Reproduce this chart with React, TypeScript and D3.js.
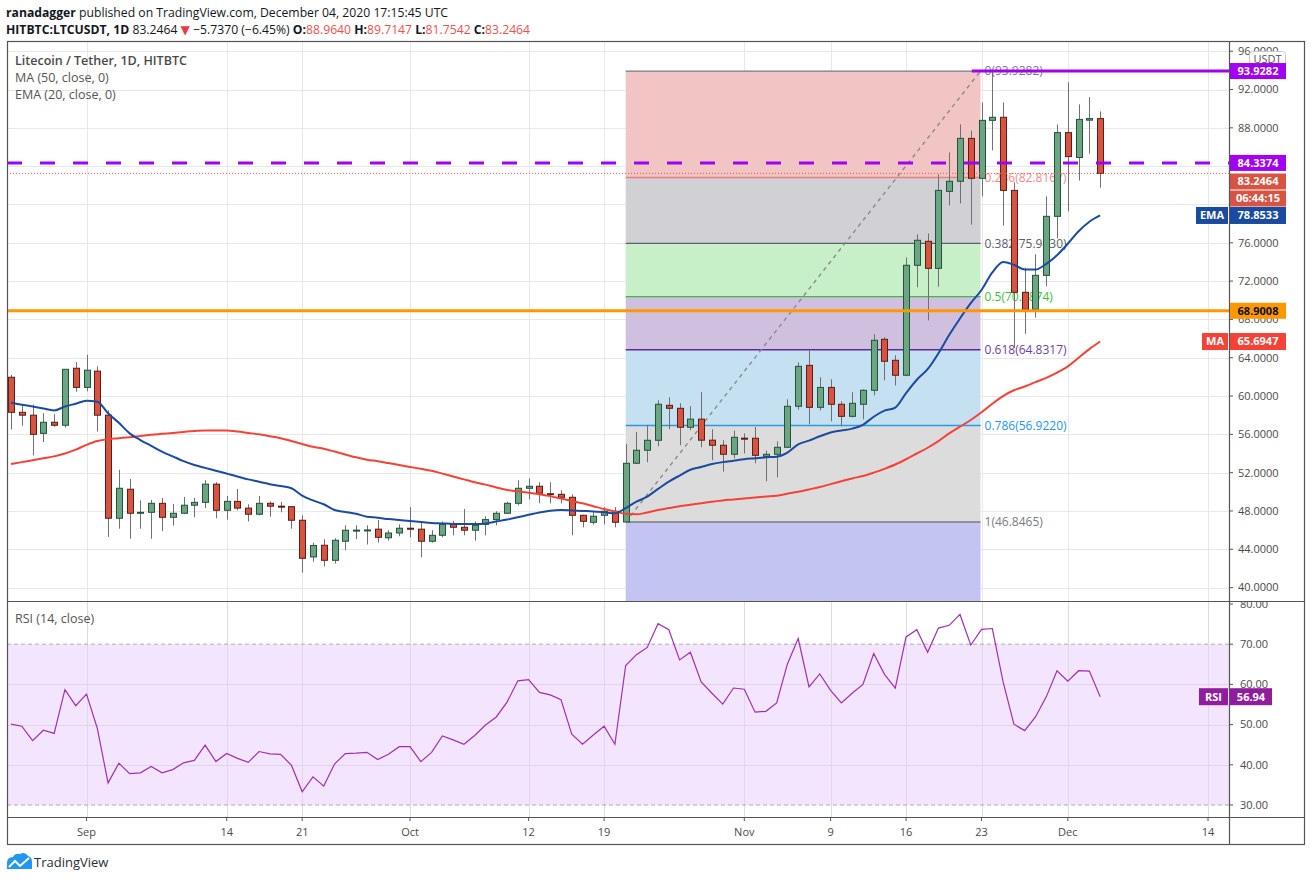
import React, { useRef, useEffect } from "react";
import * as d3 from "d3";

const W = 1311;
const H = 881;
const FONT = "'Open Sans', 'DejaVu Sans', sans-serif";

// daily candles from Aug 25 2020 to Dec 4 2020: [open, high, low, close]
const ohlc: [number, number, number, number][] = [
  [61.96, 62.2, 56.5, 58.3], [58.3, 59.06, 56.9, 58.0], [58.0, 59.1, 53.8, 56.0], [56.1, 58.2, 55.2, 57.26],
  [57.26, 58.1, 56.8, 56.95], [56.95, 62.8, 56.7, 62.79], [62.9, 63.55, 60.45, 60.9],
  [60.9, 64.3, 60.5, 62.7], [62.6, 63.1, 56.3, 58.0], [58.0, 58.5, 45.3, 47.24], [47.24, 52.3, 46.15, 50.37],
  [50.27, 51.34, 45.1, 47.76], [47.76, 49.1, 46.15, 47.86], [47.86, 49.15, 45.1, 48.8], [48.8, 49.36, 45.9, 47.34],
  [47.34, 48.73, 46.47, 47.76], [47.76, 49.46, 47.7, 48.6], [48.6, 49.36, 47.34, 48.9], [48.9, 51.2, 48.3, 50.8],
  [50.8, 51.0, 47.24, 48.07], [48.07, 49.56, 47.1, 49.0], [49.0, 50.3, 48.07, 48.3], [48.3, 48.7, 46.9, 47.66],
  [47.66, 49.56, 47.55, 48.8], [48.8, 49.0, 47.4, 48.5], [48.5, 48.94, 47.86, 48.45], [48.45, 48.5, 46.15, 47.03],
  [47.03, 47.55, 41.56, 43.06], [43.2, 44.7, 42.7, 44.4], [44.42, 45.05, 42.2, 42.85], [42.85, 45.15, 42.5, 44.94],
  [44.84, 46.5, 43.9, 45.99], [45.95, 46.5, 45.05, 46.0], [45.98, 46.5, 44.5, 46.02], [46.1, 47.06, 44.7, 45.25],
  [45.2, 46.0, 44.9, 45.7], [45.7, 46.6, 45.36, 46.2], [46.2, 48.4, 45.25, 46.1], [46.1, 46.9, 43.16, 44.84],
  [44.84, 46.0, 44.7, 45.46], [45.46, 46.9, 45.25, 46.6], [46.6, 46.97, 45.46, 46.3], [46.3, 48.2, 45.46, 45.99],
  [45.99, 46.9, 44.9, 46.5], [46.6, 47.45, 45.46, 47.1], [47.1, 47.97, 46.5, 47.76], [47.76, 48.95, 47.7, 48.8],
  [48.8, 51.2, 48.6, 50.37], [50.37, 51.4, 49.2, 50.58], [50.58, 51.0, 48.8, 49.85], [49.8, 51.0, 48.8, 49.75],
  [49.74, 50.16, 48.8, 49.43], [49.43, 49.74, 45.46, 47.55], [47.55, 47.6, 46.3, 46.92], [46.82, 47.86, 46.6, 47.45],
  [47.55, 48.4, 46.6, 47.97], [47.97, 48.4, 46.3, 46.82], [46.85, 55.0, 46.85, 52.98], [52.98, 56.25, 52.9, 54.34],
  [54.34, 56.98, 53.08, 55.38], [55.38, 59.56, 54.75, 59.14], [59.03, 59.87, 56.53, 58.72], [58.72, 59.24, 54.86, 56.74],
  [56.74, 58.93, 56.42, 57.59], [57.59, 60.4, 54.65, 55.39], [55.39, 56.53, 53.3, 54.86], [54.86, 55.39, 52.1, 53.92],
  [53.92, 56.4, 53.5, 55.69], [55.6, 56.1, 54.0, 55.5], [55.59, 56.77, 52.98, 53.81], [53.7, 54.3, 51.1, 53.92],
  [53.92, 55.27, 51.5, 54.65], [54.65, 59.66, 54.6, 58.93], [58.93, 63.52, 58.57, 63.1], [63.2, 64.77, 57.05, 58.82],
  [58.82, 61.96, 58.5, 60.9], [60.9, 61.75, 57.36, 59.14], [59.14, 59.45, 56.84, 57.88], [57.88, 60.4, 57.78, 59.24],
  [59.14, 60.7, 57.57, 60.6], [60.6, 66.45, 60.07, 65.82], [65.92, 66.13, 61.64, 63.63], [63.73, 64.25, 61.1, 62.17],
  [62.17, 74.48, 62.06, 73.65], [73.65, 76.88, 71.35, 76.26], [76.15, 76.98, 67.9, 73.33], [73.33, 83.15, 71.4, 81.47],
  [81.37, 85.44, 79.9, 82.42], [82.42, 88.36, 80.1, 86.9], [86.9, 87.7, 77.9, 82.73], [82.73, 90.66, 80.85, 88.78],
  [88.78, 93.93, 85.65, 89.1], [89.1, 90.66, 77.8, 81.47], [81.47, 82.3, 65.0, 70.83], [70.83, 73.4, 66.5, 69.05],
  [69.05, 74.8, 68.2, 72.6], [72.6, 80.85, 71.46, 78.76], [78.76, 88.36, 76.47, 87.5], [87.5, 92.75, 79.28, 85.0],
  [84.9, 90.45, 82.5, 88.88], [88.8, 91.2, 85.3, 88.964], [88.964, 89.7147, 81.7542, 83.2464],
];

const ema20 = [
  59.3, 59.1, 58.9, 58.7, 58.5, 58.9, 59.2, 59.5, 59.4, 58.2, 57.2, 56.1, 55.4, 54.8, 54.2, 53.7, 53.2, 52.8, 52.5,
  52.2, 51.9, 51.6, 51.3, 51.06, 50.8, 50.6, 50.37, 49.6, 49.1, 48.7, 48.1, 47.9, 47.7, 47.4, 47.3, 47.15, 47.05,
  46.96, 46.85, 46.75, 46.7, 46.65, 46.64, 46.64, 46.7, 46.9, 47.1, 47.35, 47.6, 47.85, 48.03, 48.1, 48.05, 48.0,
  47.95, 47.86, 47.76, 48.3, 48.97, 49.5, 50.3, 51.06, 51.7, 52.3, 52.6, 52.9, 53.1, 53.25, 53.4, 53.5, 53.6, 53.67,
  54.1, 54.96, 55.34, 55.8, 56.2, 56.4, 56.6, 57.0, 57.84, 58.47, 58.8, 60.3, 61.7, 62.8, 64.46, 66.37, 68.1, 69.7,
  71.07, 72.9, 74.0, 73.7, 73.2, 73.2, 73.8, 74.7, 75.9, 77.2, 78.2, 78.85,
];

const ma50 = [
  52.9, 53.1, 53.3, 53.5, 53.7, 54.0, 54.4, 54.9, 55.3, 55.5, 55.6, 55.7, 55.83, 55.95, 56.05, 56.15, 56.25, 56.35,
  56.4, 56.4, 56.4, 56.3, 56.15, 56.0, 55.8, 55.6, 55.3, 55.0, 54.7, 54.5, 54.2, 53.9, 53.6, 53.35, 53.2, 53.0, 52.8,
  52.6, 52.4, 52.2, 51.9, 51.6, 51.3, 51.0, 50.75, 50.45, 50.2, 50.05, 49.9, 49.75, 49.55, 49.3, 49.05, 48.8, 48.5,
  48.2, 47.95, 47.7, 47.65, 47.85, 48.1, 48.3, 48.5, 48.65, 48.8, 48.97, 49.1, 49.2, 49.3, 49.4, 49.5, 49.6, 49.8,
  50.0, 50.25, 50.5, 50.8, 51.1, 51.4, 51.65, 52.0, 52.4, 52.85, 53.4, 54.0, 54.6, 55.3, 56.1, 56.8, 57.5, 58.3, 59.2,
  60.0, 60.6, 61.0, 61.45, 61.9, 62.45, 63.1, 64.0, 64.9, 65.69,
];

const rsi14 = [
  50.1, 49.6, 46.0, 48.6, 47.8, 58.7, 54.7,
  57.6, 49.1, 35.5, 40.4, 37.8, 38.0, 39.6, 38.0, 38.8, 40.5, 41.1, 44.9, 40.8, 42.8, 41.6, 40.6, 43.3, 42.7, 42.6,
  39.9, 33.3, 37.0, 34.7, 40.2, 42.8, 42.9, 43.1, 41.3, 42.6, 44.5,
  44.5, 40.8, 43.1, 47.2, 46.2, 45.1, 47.3, 49.9, 51.9, 55.6, 60.9, 61.2, 58.0, 57.4, 56.2, 47.6, 45.1, 47.4, 49.6,
  45.1, 64.7, 67.4, 69.2, 75.1, 73.6, 66.1, 68.0, 60.6, 57.8, 55.1, 59.1,
  58.8, 53.1, 53.3, 55.4, 65.1, 71.4, 59.4, 62.6, 58.5, 55.4, 57.8, 60.0, 67.7, 62.5, 59.1, 71.8, 73.6, 68.0, 74.0,
  74.7, 77.4, 69.8, 73.7, 73.9, 60.6, 50.1, 48.5, 51.9, 56.9, 63.4,
  60.8, 63.4, 63.3, 56.94,
];

// price ticks whose labels are visible (84 and 80 sit under the value tags)
const priceTicks = [40, 44, 48, 52, 56, 60, 64, 68, 72, 76, 80, 84, 88, 92, 96];
const hiddenPriceLabels = [80, 84];
const rsiTicks = [30, 40, 50, 60, 70, 80];
const timeTicks: [Date, string][] = [
  [new Date(Date.UTC(2020, 8, 1)), "Sep"], [new Date(Date.UTC(2020, 8, 14)), "14"],
  [new Date(Date.UTC(2020, 8, 21)), "21"], [new Date(Date.UTC(2020, 9, 1)), "Oct"],
  [new Date(Date.UTC(2020, 9, 12)), "12"], [new Date(Date.UTC(2020, 9, 19)), "19"],
  [new Date(Date.UTC(2020, 10, 1)), "Nov"], [new Date(Date.UTC(2020, 10, 9)), "9"],
  [new Date(Date.UTC(2020, 10, 16)), "16"], [new Date(Date.UTC(2020, 10, 23)), "23"],
  [new Date(Date.UTC(2020, 11, 1)), "Dec"], [new Date(Date.UTC(2020, 11, 14)), "14"],
];

// fib retracement: levels, prices, colours
const fibLevels = ["0", "0.236", "0.382", "0.5", "0.618", "0.786", "1"];
const fibPrices = [93.9282, 82.8167, 75.943, 70.3874, 64.8317, 56.922, 46.8465];
const fibLine = ["#787b86", "#e88080", "#5d606b", "#4caf50", "#5e2a96", "#2a9be0", "#787b86"];
const fibText = ["#787b86", "#ef8c8c", "#5d606b", "#3cbf3c", "#6a3fa8", "#2196f3", "#787b86"];
const fibFill = ["#f2c5c5", "#d1d0d5", "#c7efc8", "#cfc0df", "#c5e1f1", "#dcdcdc", "#c3c4f1"];
const fibStart = new Date(Date.UTC(2020, 9, 21));
const fibEnd = new Date(Date.UTC(2020, 10, 23));

const resistance = 84.3374;
const support = 68.9008;
const topLevel = 93.9282;
const lastPrice = 83.2464;

const App: React.FC = () => {
  const svgRef = useRef<SVGSVGElement | null>(null);

  useEffect(() => {
    if (!svgRef.current) return;
    const svg = d3.select(svgRef.current);
    svg.selectAll("*").remove();

    const left = 7, right = 1229, top = 41, mainBottom = 601, rsiBottom = 817, bottom = 844, outer = 1304;

    const dates = d3.utcDay.range(new Date(Date.UTC(2020, 7, 25)), new Date(Date.UTC(2020, 11, 5)));
    const x = d3.scaleUtc()
      .domain([new Date(Date.UTC(2020, 8, 1)), new Date(Date.UTC(2020, 11, 14))])
      .range([86.5, 1208]);
    const y = d3.scaleLinear().domain([40, 96]).range([587.6, 51.2]);
    const yr = d3.scaleLinear().domain([30, 80]).range([805, 604]);

    const defs = svg.append("defs");
    defs.append("clipPath").attr("id", "clipMain")
      .append("rect").attr("x", left).attr("y", top).attr("width", right - left).attr("height", mainBottom - top);
    defs.append("clipPath").attr("id", "clipRsi")
      .append("rect").attr("x", left).attr("y", mainBottom).attr("width", right - left).attr("height", rsiBottom - mainBottom);
    defs.append("clipPath").attr("id", "clipRsiAxis")
      .append("rect").attr("x", right).attr("y", mainBottom + 1).attr("width", outer - right).attr("height", rsiBottom - mainBottom - 1);

    svg.append("rect").attr("width", W).attr("height", H).attr("fill", "#fff");

    // ---------- header ----------
    const h1 = svg.append("text").attr("x", 6).attr("y", 17).style("font", `12.2px ${FONT}`).attr("fill", "#131722");
    h1.append("tspan").attr("font-weight", "bold").text("ranadagger");
    h1.append("tspan").text(" published on TradingView.com, December 04, 2020 17:15:45 UTC");

    const h2 = svg.append("text").attr("x", 6).attr("y", 34).style("font", `12.2px ${FONT}`).attr("fill", "#131722");
    h2.append("tspan").attr("font-weight", "bold").text("HITBTC:LTCUSDT, 1D");
    h2.append("tspan").text("  83.2464 ");
    h2.append("tspan").attr("fill", "#f23645").text("▼");
    h2.append("tspan").text(" −5.7370 (−6.45%) ");
    [["O:", "88.9640"], ["H:", "89.7147"], ["L:", "81.7542"], ["C:", "83.2464"]].forEach(([k, v]) => {
      h2.append("tspan").attr("font-weight", "bold").text(k);
      h2.append("tspan").attr("fill", "#f0504f").text(v + " ");
    });

    // ---------- grid ----------
    const grid = svg.append("g").attr("stroke", "#e8e8e8").attr("stroke-width", 1);
    timeTicks.forEach(([d]) => {
      grid.append("line").attr("x1", Math.round(x(d)) + 0.5).attr("x2", Math.round(x(d)) + 0.5)
        .attr("y1", top).attr("y2", rsiBottom);
    });
    priceTicks.forEach(p => {
      if (y(p) > top && y(p) < mainBottom)
        grid.append("line").attr("x1", left).attr("x2", right).attr("y1", Math.round(y(p)) + 0.5).attr("y2", Math.round(y(p)) + 0.5);
    });

    // ---------- main pane ----------
    const main = svg.append("g").attr("clip-path", "url(#clipMain)");
    const fx0 = x(fibStart), fx1 = x(fibEnd) - 1;
    const fillBounds = [...fibPrices, 17.8];
    fibFill.forEach((c, i) => {
      const ya = y(fillBounds[i]), yb = y(fillBounds[i + 1]);
      main.append("rect").attr("x", fx0).attr("y", ya).attr("width", fx1 - fx0).attr("height", yb - ya)
        .attr("fill", c);
    });
    fibPrices.forEach((p, i) => {
      main.append("line").attr("x1", fx0).attr("x2", fx1).attr("y1", y(p)).attr("y2", y(p))
        .attr("stroke", fibLine[i]).attr("stroke-width", 1.3);
      main.append("text").attr("x", fx1 + 4).attr("y", y(p)).attr("dy", "0.35em")
        .style("font", `12px ${FONT}`).attr("fill", fibText[i])
        .text(`${fibLevels[i]}(${p.toFixed(4)})`);
    });
    main.append("line")
      .attr("x1", fx0).attr("y1", y(fibPrices[6])).attr("x2", fx1).attr("y2", y(fibPrices[0]))
      .attr("stroke", "#8a8a8a").attr("stroke-width", 1.4).attr("stroke-dasharray", "4 4");

    // candles
    const bw = 6;
    const candles = main.append("g").selectAll("g").data(ohlc).enter().append("g");
    candles.append("line")
      .attr("x1", (_, i) => Math.round(x(dates[i])) + 0.5).attr("x2", (_, i) => Math.round(x(dates[i])) + 0.5)
      .attr("y1", d => y(d[1])).attr("y2", d => y(d[2]))
      .attr("stroke", "#707070").attr("stroke-width", 1);
    candles.append("rect")
      .attr("x", (_, i) => Math.round(x(dates[i])) + 0.5 - bw / 2)
      .attr("y", d => y(Math.max(d[0], d[3])))
      .attr("width", bw)
      .attr("height", d => Math.max(1, Math.abs(y(d[0]) - y(d[3]))))
      .attr("fill", d => d[3] >= d[0] ? "#6ba583" : "#d75442")
      .attr("stroke", d => d[3] >= d[0] ? "#225437" : "#5e1d12")
      .attr("stroke-width", 1);

    const lineGen = (vals: number[]) => d3.line<number>()
      .x((_, i) => x(dates[i])).y(v => y(v)).curve(d3.curveMonotoneX)(vals);
    main.append("path").attr("d", lineGen(ma50)).attr("fill", "none").attr("stroke", "#f44336").attr("stroke-width", 2);
    main.append("path").attr("d", lineGen(ema20)).attr("fill", "none").attr("stroke", "#1a4ba0").attr("stroke-width", 2);

    // horizontal drawings
    main.append("line").attr("x1", left).attr("x2", right).attr("y1", y(lastPrice)).attr("y2", y(lastPrice))
      .attr("stroke", "#ef5350").attr("stroke-width", 1).attr("stroke-dasharray", "1 2");
    main.append("line").attr("x1", left).attr("x2", right).attr("y1", y(support)).attr("y2", y(support))
      .attr("stroke", "#ff9800").attr("stroke-width", 3);
    main.append("line").attr("x1", left).attr("x2", right).attr("y1", y(resistance)).attr("y2", y(resistance))
      .attr("stroke", "#a100f2").attr("stroke-width", 3).attr("stroke-dasharray", "15 18");
    main.append("line").attr("x1", x(new Date(Date.UTC(2020, 10, 22))) + 1).attr("x2", right)
      .attr("y1", y(topLevel)).attr("y2", y(topLevel))
      .attr("stroke", "#a100f2").attr("stroke-width", 3);

    // legend
    const legend = svg.append("g").style("font", `12.5px ${FONT}`);
    legend.append("text").attr("x", 15).attr("y", 65).attr("fill", "#4a4a4a").attr("font-weight", 600)
      .text("Litecoin / Tether, 1D, HITBTC");
    legend.append("text").attr("x", 15).attr("y", 82).attr("fill", "#555").text("MA (50, close, 0)");
    legend.append("text").attr("x", 15).attr("y", 99).attr("fill", "#555").text("EMA (20, close, 0)");

    // ---------- RSI pane ----------
    const rsiG = svg.append("g").attr("clip-path", "url(#clipRsi)");
    rsiG.append("rect").attr("x", left).attr("y", yr(70)).attr("width", right - left).attr("height", yr(30) - yr(70))
      .attr("fill", "#f3e5fd");
    [40, 50, 60].forEach(v => {
      rsiG.append("line").attr("x1", left).attr("x2", right).attr("y1", Math.round(yr(v)) + 0.5).attr("y2", Math.round(yr(v)) + 0.5)
        .attr("stroke", "#e0d4ea").attr("stroke-width", 1);
    });
    timeTicks.forEach(([d]) => {
      rsiG.append("line").attr("x1", Math.round(x(d)) + 0.5).attr("x2", Math.round(x(d)) + 0.5)
        .attr("y1", mainBottom).attr("y2", rsiBottom).attr("stroke", "#e0d8e6");
    });
    [30, 70].forEach(v => {
      rsiG.append("line").attr("x1", left).attr("x2", right).attr("y1", yr(v)).attr("y2", yr(v))
        .attr("stroke", "#b2a8b8").attr("stroke-width", 1).attr("stroke-dasharray", "4 3");
    });
    rsiG.append("path")
      .attr("d", d3.line<number>().x((_, i) => x(dates[i])).y(v => yr(v))(rsi14))
      .attr("fill", "none").attr("stroke", "#a030b5").attr("stroke-width", 1.2);
    svg.append("text").attr("x", 15).attr("y", 623).style("font", `12.5px ${FONT}`).attr("fill", "#555")
      .text("RSI (14, close)");

    // ---------- frame & axes ----------
    const frame = svg.append("g").attr("stroke", "#555").attr("stroke-width", 1.2).attr("fill", "none");
    frame.append("rect").attr("x", left + 0.5).attr("y", top + 0.5).attr("width", outer - left).attr("height", bottom - top);
    frame.append("line").attr("x1", left).attr("x2", outer).attr("y1", mainBottom + 0.5).attr("y2", mainBottom + 0.5);
    frame.append("line").attr("x1", left).attr("x2", outer).attr("y1", rsiBottom + 0.5).attr("y2", rsiBottom + 0.5);
    frame.append("line").attr("x1", right + 0.5).attr("x2", right + 0.5).attr("y1", top).attr("y2", bottom);

    const axisFont = `11px ${FONT}`;
    const pAxis = svg.append("g");
    priceTicks.forEach(p => {
      pAxis.append("line").attr("x1", right).attr("x2", right + 4).attr("y1", y(p)).attr("y2", y(p)).attr("stroke", "#555");
      if (hiddenPriceLabels.includes(p)) return;
      pAxis.append("text").attr("x", right + 9).attr("y", y(p)).attr("dy", "0.35em").style("font", axisFont)
        .attr("fill", "#4a4a4a").text(p.toFixed(4));
    });
    const rAxis = svg.append("g").attr("clip-path", "url(#clipRsiAxis)");
    rsiTicks.forEach(v => {
      rAxis.append("line").attr("x1", right).attr("x2", right + 4).attr("y1", yr(v)).attr("y2", yr(v)).attr("stroke", "#555");
      rAxis.append("text").attr("x", right + 11).attr("y", yr(v)).attr("dy", "0.35em").style("font", axisFont)
        .attr("fill", "#4a4a4a").text(v.toFixed(2));
    });
    timeTicks.forEach(([d, label]) => {
      svg.append("line").attr("x1", x(d)).attr("x2", x(d)).attr("y1", rsiBottom).attr("y2", rsiBottom + 4).attr("stroke", "#555");
      svg.append("text").attr("x", x(d)).attr("y", 836).attr("text-anchor", "middle").style("font", axisFont)
        .attr("fill", "#4a4a4a").text(label);
    });

    // axis value labels
    const tag = (x0: number, w: number, yc: number, h: number, bg: string, fg: string, txt: string) => {
      svg.append("rect").attr("x", x0).attr("y", yc - h / 2).attr("width", w).attr("height", h).attr("fill", bg);
      svg.append("text").attr("x", x0 + w / 2).attr("y", yc).attr("dy", "0.35em").attr("text-anchor", "middle")
        .style("font", `bold 11px ${FONT}`).attr("fill", fg).text(txt);
    };
    svg.append("rect").attr("x", 1249.5).attr("y", 51.5).attr("width", 36).attr("height", 16).attr("rx", 3)
      .attr("fill", "#fff").attr("stroke", "#c8c8c8");
    svg.append("text").attr("x", 1267.5).attr("y", 59.5).attr("dy", "0.35em").attr("text-anchor", "middle")
      .style("font", axisFont).attr("fill", "#555").text("USDT");
    tag(1230, 56, y(topLevel), 16, "#a100f2", "#fff", "93.9282");
    tag(1230, 56, y(resistance), 16, "#a100f2", "#fff", "84.3374");
    tag(1230, 56, 181.5, 16, "#d75442", "#fff", lastPrice.toFixed(4));
    tag(1230, 56, 198.5, 16, "#d75442", "#fff", "06:44:15");
    tag(1196, 32, y(ema20[ema20.length - 1]), 17, "#1a4ba0", "#fff", "EMA");
    tag(1230, 56, y(ema20[ema20.length - 1]), 17, "#1a4ba0", "#fff", "78.8533");
    tag(1230, 56, y(support), 16, "#ff9800", "#111", "68.9008");
    tag(1202, 26, y(ma50[ma50.length - 1]), 17, "#f44336", "#fff", "MA");
    tag(1230, 56, y(ma50[ma50.length - 1]), 17, "#f44336", "#fff", "65.6947");
    tag(1199, 29, yr(rsi14[rsi14.length - 1]), 17, "#8f1d9c", "#fff", "RSI");
    tag(1230, 42, yr(rsi14[rsi14.length - 1]), 17, "#8f1d9c", "#fff", "56.94");

    // ---------- footer logo ----------
    svg.append("path")
      .attr("d", "M7,869 L7,863 Q7,857 13,857 Q15,853 20,854 Q25,851 28,856 Q32,857 32,862 L32,869 Z")
      .attr("fill", "#2196f3");
    svg.append("path").attr("d", "M9,867 L15,861 L20,866 L29,858")
      .attr("fill", "none").attr("stroke", "#fff").attr("stroke-width", 2);
    svg.append("text").attr("x", 34).attr("y", 867).style("font", `13px ${FONT}`).attr("fill", "#2a2e39").text("TradingView");
  }, []);

  return <svg ref={svgRef} width={W} height={H} style={{ position: "absolute", left: 0, top: 0 }} />;
};

export default App;
